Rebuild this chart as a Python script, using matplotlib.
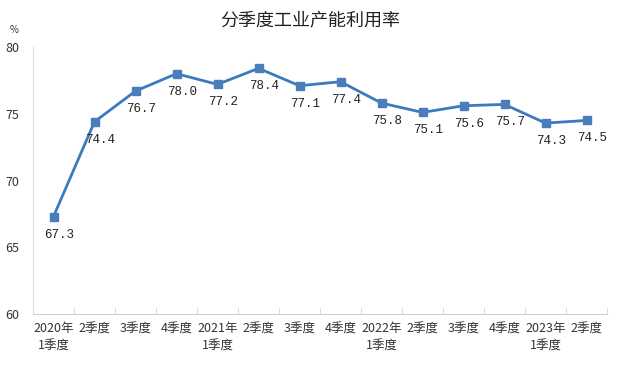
import matplotlib.pyplot as plt
import numpy as np

plt.rcParams['font.family'] = ['Noto Sans CJK SC', 'DejaVu Sans']
mono = ['Liberation Mono', 'Noto Sans CJK SC']

categories = ['2020年\n1季度', '2季度', '3季度', '4季度',
              '2021年\n1季度', '2季度', '3季度', '4季度',
              '2022年\n1季度', '2季度', '3季度', '4季度',
              '2023年\n1季度', '2季度']
values = [67.3, 74.4, 76.7, 78.0, 77.2, 78.4, 77.1, 77.4,
          75.8, 75.1, 75.6, 75.7, 74.3, 74.5]

fig = plt.figure(figsize=(6.21, 3.66), dpi=100)
ax = fig.add_axes([33 / 621, 1 - 314 / 366, 574 / 621, 267 / 366])

x = np.arange(len(values))
ax.plot(x, values, color='#3A7BBF', linewidth=2, marker='s', markersize=6,
        markerfacecolor='#4A7EBB', markeredgecolor='#4A7EBB')

for xi, v in zip(x, values):
    ax.annotate(f'{v:.1f}', (xi, v), xytext=(4, -13), textcoords='offset points',
                ha='center', va='center', fontsize=9, color='#222222', family=mono)

ax.set_xlim(-0.5, len(values) - 0.5)
ax.set_ylim(60, 80)
ax.set_yticks([60, 65, 70, 75, 80])
ax.set_xticks(x)
ax.set_xticklabels(categories, fontsize=9, color='#333333', linespacing=1.4)
ax.set_xticks(np.arange(-0.5, len(values)), minor=True)
ax.tick_params(axis='x', which='major', length=0, pad=6)
ax.tick_params(axis='x', which='minor', length=4, direction='in', color='#D0D0D0')
ax.tick_params(axis='y', length=0, labelsize=9, labelcolor='#333333', pad=10)

for s in ['top', 'right']:
    ax.spines[s].set_visible(False)
ax.spines['left'].set_color('#E0E0E0')
ax.spines['bottom'].set_color('#D0D0D0')

fig.text(310 / 621, 1 - 20 / 366, '分季度工业产能利用率', ha='center', va='center',
         fontsize=13, color='#222222')
fig.text(14 / 621, 1 - 30 / 366, '%', ha='center', va='center', fontsize=7, color='#333333')

fig.savefig('out.png', dpi=100)
